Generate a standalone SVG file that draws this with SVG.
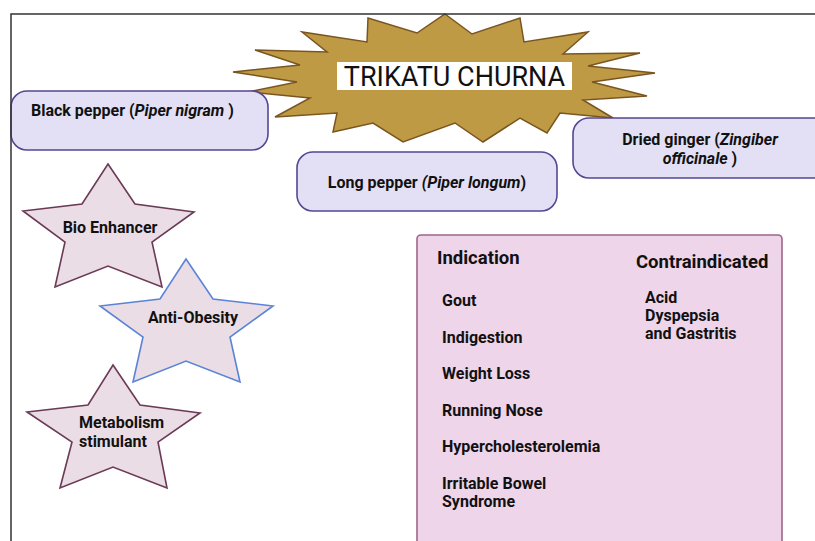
<svg xmlns="http://www.w3.org/2000/svg" width="815" height="541" viewBox="0 0 815 541">
<style>
.t{font-family:Roboto,"Liberation Sans",sans-serif;fill:#111;}
.b{font-weight:bold;font-size:16px;}
.h{font-weight:bold;font-size:18.5px;}
.box{fill:#E3E0F5;stroke:#564693;stroke-width:1.6;}
.star{fill:#EBDDE6;stroke:#6B3A55;stroke-width:1.6;}
</style>
<rect width="815" height="541" fill="#fff"/>
<g id="connectors"></g>
<g id="title">
<polygon fill="#BF9A45" stroke="#7A5520" stroke-width="1.5" stroke-linejoin="miter" points="445,14 472,34 520,18 524,42 588,32 563,54 640,53 588,66 655,73 592,82 647,96 583,100 613,118 560,113 547,133 520,118 483,142 455,123 403,142 373,123 333,132 337,113 275,117 310,98 248,92 297,82 233,72 300,65 255,50 327,52 302,32 367,42 368,18 417,33"/>
<rect x="337" y="62" width="235" height="28" fill="#fff"/>
<text class="t" x="454.5" y="86" font-size="27" text-anchor="middle">TRIKATU CHURNA</text>
</g>
<g id="black-pepper">
<rect class="box" x="11" y="91" width="257" height="59" rx="16"/>
<text class="t b" x="31" y="116">Black pepper (<tspan font-style="italic">Piper nigram</tspan> )</text>
</g>
<g id="long-pepper">
<rect class="box" x="297" y="152" width="260" height="59" rx="16"/>
<text class="t b" x="427" y="188" text-anchor="middle">Long pepper <tspan font-style="italic">(Piper longum</tspan>)</text>
</g>
<g id="dried-ginger">
<rect class="box" x="573" y="118" width="260" height="60" rx="16"/>
<text class="t b" x="700" y="145" text-anchor="middle">Dried ginger (<tspan font-style="italic">Zingiber</tspan></text>
<text class="t b" x="700" y="164" text-anchor="middle"><tspan font-style="italic">officinale</tspan> )</text>
</g>
<g id="bio-enhancer">
<polygon class="star" points="108,164 135,204 194,212 152,242 162,287 108,266 55,287 65,242 23,211 82,204"/>
<text class="t b" x="110" y="233" text-anchor="middle">Bio Enhancer</text>
</g>
<g id="anti-obesity">
<polygon class="star" style="stroke:#5B84D6" points="186,259 213,299 273,306 230,337 240,382 186,361 133,382 143,337 100,306 160,299"/>
<text class="t b" x="193" y="323" text-anchor="middle">Anti-Obesity</text>
</g>
<g id="metabolism">
<polygon class="star" points="113,365 140,405 200,413 158,442 167,488 113,467 60,488 72,442 27,412 88,405"/>
<text class="t b" x="79" y="428">Metabolism</text>
<text class="t b" x="79" y="447">stimulant</text>
</g>
<g id="indications">
<rect x="417" y="235" width="365" height="320" rx="4" fill="#EFD5EA" stroke="#A0648A" stroke-width="1.6"/>
<text class="t h" x="437" y="264">Indication</text>
<text class="t h" x="636" y="268">Contraindicated</text>
<text class="t b" x="442" y="306">Gout</text>
<text class="t b" x="442" y="343">Indigestion</text>
<text class="t b" x="442" y="379">Weight Loss</text>
<text class="t b" x="442" y="416">Running Nose</text>
<text class="t b" x="442" y="452">Hypercholesterolemia</text>
<text class="t b" x="442" y="489">Irritable Bowel</text>
<text class="t b" x="442" y="507">Syndrome</text>
<text class="t b" x="645" y="303">Acid</text>
<text class="t b" x="645" y="321">Dyspepsia</text>
<text class="t b" x="645" y="339">and Gastritis</text>
</g>
<g id="frame">
<polyline points="11,541 11,14 815,14" fill="none" stroke="#333" stroke-width="1.5"/>
</g>
</svg>
